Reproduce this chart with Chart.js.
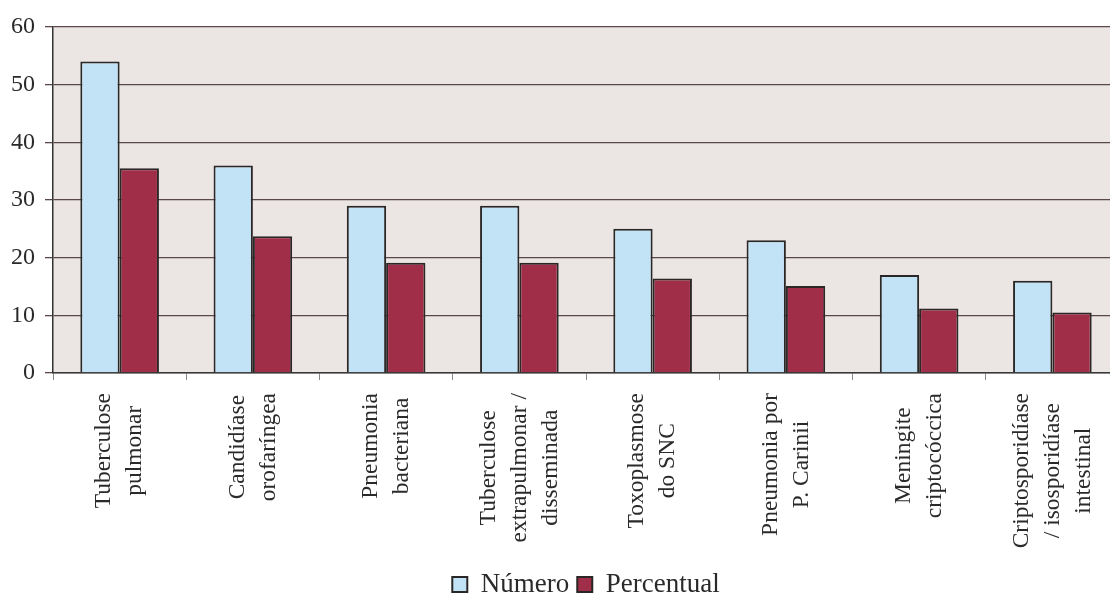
<!DOCTYPE html>
<html>
<head>
<meta charset="utf-8">
<script src="https://cdn.jsdelivr.net/npm/chart.js@4.4.1/dist/chart.umd.min.js"></script>
<style>
  html, body { margin: 0; padding: 0; background: #fff; overflow: hidden; }
  canvas { display: block; }
</style>
</head>
<body>
<canvas id="chart" width="1122" height="614"></canvas>
<script>
// --- data ---
const categories = [
    ['Tuberculose', 'pulmonar'],
    ['Candidíase', 'orofaríngea'],
    ['Pneumonia', 'bacteriana'],
    ['Tuberculose', 'extrapulmonar /', 'disseminada'],
    ['Toxoplasmose', 'do SNC'],
    ['Pneumonia por', 'P. Carinii'],
    ['Meningite', 'criptocóccica'],
    ['Criptosporidíase', '/ isosporidíase', 'intestinal']
];
const numero = [54, 36, 29, 29, 25, 23, 17, 16];
const percentual = [35.5, 23.7, 19.1, 19.1, 16.4, 15.1, 11.2, 10.5];
const seriesNames = ['Número', 'Percentual'];

const SERIF = "'Liberation Serif', 'Times New Roman', serif";
const TEXT = '#2a2a2a';

// plot area background (scanned grey-pink)
const plotBg = {
    id: 'plotBg',
    beforeDraw(c) {
        const { ctx, chartArea: a } = c;
        ctx.save();
        ctx.fillStyle = '#ebe6e4';
        ctx.fillRect(a.left, a.top, a.right - a.left, a.bottom - a.top);
        ctx.restore();
    }
};

// vertical, centred multi-line category labels (Excel style)
const xLabels = {
    id: 'xLabels',
    afterDraw(c) {
        const { ctx } = c;
        const xs = c.scales.x;
        const lineH = 31;
        ctx.save();
        ctx.font = '23.5px ' + SERIF;
        ctx.fillStyle = TEXT;
        ctx.textAlign = 'center';
        ctx.textBaseline = 'middle';
        categories.forEach((lines, i) => {
            const w = Math.max(...lines.map(l => ctx.measureText(l).width));
            const cx = xs.getPixelForValue(i);
            const cy = xs.top + 20 + w / 2;
            ctx.save();
            ctx.translate(cx, cy);
            ctx.rotate(-Math.PI / 2);
            lines.forEach((l, j) => ctx.fillText(l, 0, (j - (lines.length - 1) / 2) * lineH));
            ctx.restore();
        });
        ctx.restore();
    }
};

new Chart(document.getElementById('chart'), {
    type: 'bar',
    data: {
        labels: categories,
        datasets: [
            { label: seriesNames[0], data: numero, backgroundColor: '#c2e3f5', borderColor: '#2b2727', borderWidth: 2 },
            { label: seriesNames[1], data: percentual, backgroundColor: '#a12e48', borderColor: '#2b2727', borderWidth: 2 }
        ]
    },
    options: {
        responsive: false,
        animation: false,
        categoryPercentage: 0.59,
        barPercentage: 1.0,
        layout: { padding: { top: 27, left: 1, right: 3, bottom: 6 } },
        plugins: {
            legend: {
                position: 'bottom',
                fullSize: false,
                labels: {
                    font: { family: SERIF, size: 27 },
                    color: TEXT,
                    boxWidth: 15,
                    boxHeight: 15,
                    padding: 8
                }
            },
            tooltip: { enabled: false }
        },
        scales: {
            x: {
                grid: { display: true, drawOnChartArea: false, drawTicks: true, tickLength: 7, color: '#8a8a8a', lineWidth: 1 },
                border: { display: true, color: '#3a3a3a', width: 1.5 },
                ticks: { display: false },
                afterFit(s) { s.height = 190; }
            },
            y: {
                min: 0, max: 60,
                ticks: { stepSize: 10, padding: 10, color: TEXT, font: { family: SERIF, size: 24 } },
                grid: { color: '#5a4848', lineWidth: 1.3, tickLength: 8 },
                border: { display: true, color: '#333', width: 1.5 }
            }
        }
    },
    plugins: [plotBg, xLabels]
});
</script>
</body>
</html>
